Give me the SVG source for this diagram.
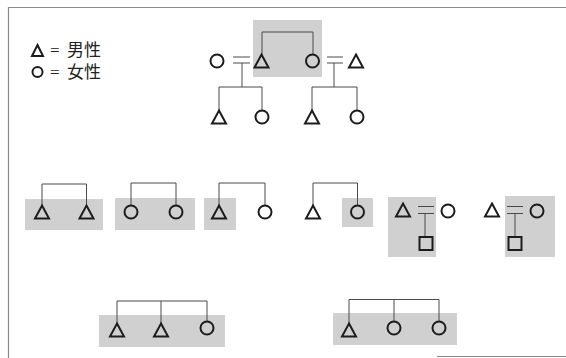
<svg xmlns="http://www.w3.org/2000/svg" xmlns:xlink="http://www.w3.org/1999/xlink" width="566" height="358" viewBox="0 0 566 358">
<style>
.shade{fill:#d0d0d0;stroke:none}
.sym{fill:none;stroke:#1c1c1c;stroke-width:2}
.con{fill:none;stroke:#4a4a4a;stroke-width:1}
.frame{fill:none;stroke:#8a8a8a;stroke-width:1.2}
.lbl{font-family:"Liberation Serif","Noto Sans CJK JP",serif;font-size:17px;fill:#222}
</style>
<defs>
<path id="tri" d="M0,-6.5 L7,6.5 L-7,6.5 Z"/>
<path id="trs" d="M0,-5.5 L5.5,5.5 L-5.5,5.5 Z"/>
</defs>
<rect width="566" height="358" fill="#ffffff"/>
<g id="frame">
<path class="frame" d="M8.5,7 V358 M8,7.5 H566"/>
<path class="frame" d="M437,356.5 H566"/>
</g>
<g id="shading">
<rect class="shade" x="253" y="20" width="69" height="57"/>
<rect class="shade" x="25" y="199" width="78" height="31"/>
<rect class="shade" x="115" y="198" width="80" height="32"/>
<rect class="shade" x="204" y="198" width="32" height="32"/>
<rect class="shade" x="342" y="198" width="31" height="29"/>
<rect class="shade" x="388" y="197" width="48" height="60"/>
<rect class="shade" x="505" y="196" width="50" height="61"/>
<rect class="shade" x="99" y="315" width="126" height="32"/>
<rect class="shade" x="333" y="313" width="124" height="32"/>
</g>
<g id="legend">
<use href="#trs" x="37.5" y="50.5" class="sym"/>
<text class="lbl" y="56"><tspan x="50">=</tspan><tspan x="67">男性</tspan></text>
<circle class="sym" cx="37.5" cy="72" r="5"/>
<text class="lbl" y="78"><tspan x="50">=</tspan><tspan x="67">女性</tspan></text>
</g>
<g id="connectors">
<path class="con" d="M262,54.5 V32 H313 V54.5"/>
<path class="con" d="M233,57 H250 M233,63 H250 M242,63 V87 M219,87 H262 M219,87 V110.5 M262,87 V110.5"/>
<path class="con" d="M327,57 H343 M327,63 H343 M334,63 V87 M312,87 H357 M312,87 V110.5 M357,87 V110.5"/>
<path class="con" d="M42,205.5 V184 H86.5 V205.5"/>
<path class="con" d="M131,205.5 V183 H176 V205.5"/>
<path class="con" d="M219,205.5 V183 H265 V205.5"/>
<path class="con" d="M313,205.5 V183 H357.5 V205.5"/>
<path class="con" d="M418,206.5 H434 M418,213.5 H434 M425,213.5 V237"/>
<path class="con" d="M507,206.5 H523 M507,213.5 H523 M515,213.5 V237"/>
<path class="con" d="M117,323.5 V301 H207 V321.5 M161,301 V323.5"/>
<path class="con" d="M349,323.5 V299.5 H439 V321.5 M394,299.5 V321.5"/>
</g>
<g id="n-top-m"><use href="#tri" x="261.5" y="61" class="sym"/></g>
<g id="n-top-f"><circle class="sym" cx="312.5" cy="61" r="6.5"/></g>
<g id="n-left-spouse"><circle class="sym" cx="217" cy="61" r="6.5"/></g>
<g id="n-right-spouse"><use href="#tri" x="356" y="61" class="sym"/></g>
<g id="n-lc1"><use href="#tri" x="219" y="117" class="sym"/></g>
<g id="n-lc2"><circle class="sym" cx="262" cy="117" r="6.5"/></g>
<g id="n-rc1"><use href="#tri" x="312" y="117" class="sym"/></g>
<g id="n-rc2"><circle class="sym" cx="357" cy="117" r="6.5"/></g>
<g id="n-p1a"><use href="#tri" x="42" y="212" class="sym"/></g>
<g id="n-p1b"><use href="#tri" x="86.5" y="212" class="sym"/></g>
<g id="n-p2a"><circle class="sym" cx="131" cy="212" r="6.5"/></g>
<g id="n-p2b"><circle class="sym" cx="176" cy="212" r="6.5"/></g>
<g id="n-p3a"><use href="#tri" x="219" y="212" class="sym"/></g>
<g id="n-p3b"><circle class="sym" cx="265" cy="212" r="6.5"/></g>
<g id="n-p4a"><use href="#tri" x="313" y="212" class="sym"/></g>
<g id="n-p4b"><circle class="sym" cx="357.5" cy="212" r="6.5"/></g>
<g id="n-p5a"><use href="#tri" x="403" y="210" class="sym"/></g>
<g id="n-p5b"><circle class="sym" cx="448" cy="211" r="6.5"/></g>
<g id="n-p5c"><rect class="sym" x="419.5" y="237" width="13" height="13"/></g>
<g id="n-p6a"><use href="#tri" x="492" y="210" class="sym"/></g>
<g id="n-p6b"><circle class="sym" cx="537" cy="211" r="6.5"/></g>
<g id="n-p6c"><rect class="sym" x="508.5" y="237" width="13" height="13"/></g>
<g id="n-s1a"><use href="#tri" x="117" y="330" class="sym"/></g>
<g id="n-s1b"><use href="#tri" x="161" y="330" class="sym"/></g>
<g id="n-s1c"><circle class="sym" cx="207" cy="328" r="6.5"/></g>
<g id="n-s2a"><use href="#tri" x="349" y="330" class="sym"/></g>
<g id="n-s2b"><circle class="sym" cx="394" cy="328" r="6.5"/></g>
<g id="n-s2c"><circle class="sym" cx="439" cy="328" r="6.5"/></g>
</svg>
